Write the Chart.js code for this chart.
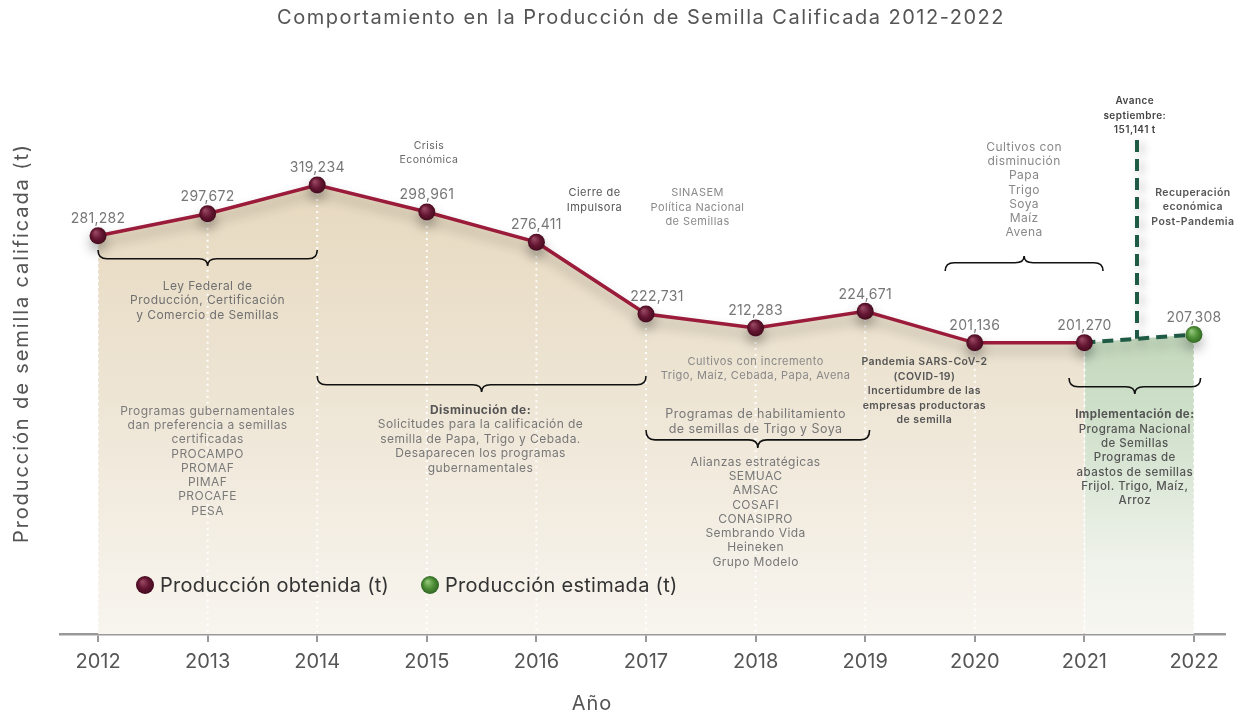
<!DOCTYPE html>
<html><head><meta charset="utf-8">
<script src="https://cdn.jsdelivr.net/npm/chart.js@4.4.1/dist/chart.umd.min.js"></script>
<style>html,body{margin:0;padding:0;background:#fff}</style>
</head><body>
<canvas id="c" width="1239" height="715"></canvas>
<script>
// ---- DATA ----
const years = [2012, 2013, 2014, 2015, 2016, 2017, 2018, 2019, 2020, 2021, 2022];
const yearLabels = ['2012','2013','2014','2015','2016','2017','2018','2019','2020','2021','2022'];
const obtainedYears = [2012, 2013, 2014, 2015, 2016, 2017, 2018, 2019, 2020, 2021];
const obtained = [281282, 297672, 319234, 298961, 276411, 222731, 212283, 224671, 201136, 201270];
const estimatedYears = [2021, 2022];
const estimated = [201270, 207308];
const seriesNames = ['Producción obtenida (t)', 'Producción estimada (t)'];
const avanceYear = 2021.48;

// ---- STYLE ----
const FONT = 'Inter, "Open Sans", sans-serif';
const labelNudge = {2017: 11};   // x pixel nudge of value labels

const notes = [
 {x:2013, y:286, lh:14.5, size:12, color:'#707070', lines:['Ley Federal de','Producción, Certificación','y Comercio de Semillas']},
 {x:2013, y:411, lh:14.3, size:12, color:'#7a7a7a', lines:['Programas gubernamentales','dan preferencia a semillas','certificadas','PROCAMPO','PROMAF','PIMAF','PROCAFE','PESA']},
 {x:2015.02, y:146, lh:14, size:10.5, color:'#666', lines:['Crisis','Económica']},
 {x:2016.53, y:193, lh:15, size:11, color:'#555', lines:['Cierre de','Impulsora']},
 {x:2017.47, y:193, lh:14.5, size:11, color:'#8a8a8a', lines:['SINASEM','Política Nacional','de Semillas']},
 {x:2015.49, y:410, lh:14.5, size:12, color:'#777', lines:[{t:'Disminución de:',w:700,c:'#555'},'Solicitudes para la calificación de','semilla de Papa, Trigo y Cebada.','Desaparecen los programas','gubernamentales']},
 {x:2018.0, y:362, lh:14, size:11, color:'#888', lines:['Cultivos con incremento','Trigo, Maíz, Cebada, Papa, Avena']},
 {x:2018.0, y:414, lh:15, size:12.5, color:'#777', lines:['Programas de habilitamiento','de semillas de Trigo y Soya']},
 {x:2018.0, y:462, lh:14.3, size:12, color:'#777', lines:['Alianzas estratégicas','SEMUAC','AMSAC','COSAFI','CONASIPRO','Sembrando Vida','Heineken','Grupo Modelo']},
 {x:2019.54, y:362, lh:14.5, size:10.5, color:'#555', w:600, lines:['Pandemia SARS-CoV-2','(COVID-19)','Incertidumbre de las','empresas productoras','de semilla']},
 {x:2020.45, y:147, lh:14.3, size:12, color:'#888', lines:['Cultivos con','disminución','Papa','Trigo','Soya','Maíz','Avena']},
 {x:2021.46, y:101, lh:14.5, size:10, color:'#444', w:600, lines:['Avance','septiembre:','151,141 t']},
 {x:2021.99, y:193, lh:14.3, size:10.5, color:'#555', w:600, lines:['Recuperación','económica','Post-Pandemia']},
 {x:2021.46, y:415, lh:14.3, size:11.5, color:'#555', w:500, lines:[{t:'Implementación de:',w:700},'Programa Nacional','de Semillas','Programas de','abastos de semillas','Frijol. Trigo, Maíz,','Arroz']}
];
// braces: x1,x2 in years; y0 = end y; dir 1 = tip down, -1 = tip up
const braces = [
 {x1:2012, x2:2014, y0:250, h:16, dir:1},
 {x1:2014, x2:2017, y0:376, h:16, dir:1},
 {x1:2017, x2:2019.04, y0:430, h:18, dir:1},
 {x1:2019.73, x2:2021.17, y0:271, h:15, dir:-1},
 {x1:2020.86, x2:2022.06, y0:378, h:16, dir:1}
];

function ball(ctx, x, y, r, stops) {
  const g = ctx.createRadialGradient(x - r*0.3, y - r*0.4, 0.5, x, y, r);
  g.addColorStop(0, stops[0]); g.addColorStop(0.55, stops[1]); g.addColorStop(1, stops[2]);
  return g;
}
const maroonStops = ['#9a4862', '#641632', '#420a1c'];
const greenStops = ['#93c77a', '#4f8f37', '#2f6622'];

function pointGrad(stops) {
  return (c) => {
    const chart = c.chart;
    if (!chart.chartArea || c.type !== 'data') return stops[1];
    const x = chart.scales.x.getPixelForValue(c.raw.x);
    const y = chart.scales.y.getPixelForValue(c.raw.y);
    return ball(chart.ctx, x, y, 9, stops);
  };
}

const lineData = obtainedYears.map((x, i) => ({x, y: obtained[i]}));
const estData = estimatedYears.map((x, i) => ({x, y: estimated[i]}));

function spacing(ctx, v) { if ('letterSpacing' in ctx) ctx.letterSpacing = v; }

const decor = {
  id: 'decor',
  beforeDatasetsDraw(chart) {
    const {ctx, chartArea, scales: {x, y}} = chart;
    ctx.save();
    ctx.strokeStyle = 'rgba(255,255,255,0.95)';
    ctx.lineWidth = 2;
    ctx.setLineDash([2, 4]);
    const pts = lineData.concat([estData[estData.length - 1]]);
    pts.forEach(p => {
      const px = x.getPixelForValue(p.x);
      ctx.beginPath();
      ctx.moveTo(px, y.getPixelForValue(p.y) + 8);
      ctx.lineTo(px, chartArea.bottom - 2);
      ctx.stroke();
    });
    ctx.restore();
    // avance dashed vertical line
    const ax = x.getPixelForValue(avanceYear);
    const t = (avanceYear - estimatedYears[0]) / (estimatedYears[1] - estimatedYears[0]);
    const av = estimated[0] + t * (estimated[1] - estimated[0]);
    ctx.save();
    ctx.shadowColor = 'rgba(0,0,0,0.25)'; ctx.shadowBlur = 8; ctx.shadowOffsetX = 4; ctx.shadowOffsetY = 3;
    ctx.strokeStyle = '#1f5a45'; ctx.lineWidth = 4; ctx.setLineDash([12, 7]);
    ctx.beginPath(); ctx.moveTo(ax, 140); ctx.lineTo(ax, y.getPixelForValue(av)); ctx.stroke();
    ctx.restore();
  },
  beforeDatasetDraw(chart) {
    const ctx = chart.ctx;
    ctx.save();
    ctx.shadowColor = 'rgba(0,0,0,0.3)'; ctx.shadowBlur = 12; ctx.shadowOffsetY = 7;
  },
  afterDatasetDraw(chart) { chart.ctx.restore(); },
  afterDatasetsDraw(chart) {
    const {ctx, scales: {x, y}} = chart;
    ctx.save();
    // value labels
    ctx.font = '14px ' + FONT; ctx.fillStyle = '#777'; ctx.textAlign = 'center'; ctx.textBaseline = 'middle';
    spacing(ctx, '0.3px');
    lineData.concat([estData[1]]).forEach(p => {
      ctx.fillText(p.y.toLocaleString('en-US'), x.getPixelForValue(p.x) + (labelNudge[p.x] || 0), y.getPixelForValue(p.y) - 17);
    });
    // braces
    ctx.strokeStyle = '#111'; ctx.lineWidth = 1.6; ctx.setLineDash([]);
    braces.forEach(b => {
      const x1 = x.getPixelForValue(b.x1), x2 = x.getPixelForValue(b.x2), xm = (x1 + x2) / 2;
      const ym = b.y0 + b.dir * b.h * 0.55, yt = b.y0 + b.dir * b.h, q = 9;
      ctx.beginPath();
      ctx.moveTo(x1, b.y0);
      ctx.quadraticCurveTo(x1, ym, x1 + q, ym);
      ctx.lineTo(xm - q, ym);
      ctx.quadraticCurveTo(xm, ym, xm, yt);
      ctx.quadraticCurveTo(xm, ym, xm + q, ym);
      ctx.lineTo(x2 - q, ym);
      ctx.quadraticCurveTo(x2, ym, x2, b.y0);
      ctx.stroke();
    });
    // notes
    spacing(ctx, '0.45px');
    notes.forEach(n => {
      const px = x.getPixelForValue(n.x);
      n.lines.forEach((l, i) => {
        const o = typeof l === 'string' ? {t: l} : l;
        ctx.font = (o.w || n.w || 400) + ' ' + n.size + 'px ' + FONT;
        ctx.fillStyle = o.c || n.color;
        ctx.fillText(o.t, px, n.y + i * n.lh);
      });
    });
    ctx.restore();
  },
  afterDraw(chart) {
    const {ctx} = chart;
    ctx.save();
    ctx.textAlign = 'center'; ctx.textBaseline = 'middle';
    ctx.fillStyle = '#555'; ctx.font = '20px ' + FONT;
    spacing(ctx, '1.5px');
    ctx.fillText('Comportamiento en la Producción de Semilla Calificada 2012-2022', 641, 18);
    spacing(ctx, '1px');
    ctx.fillText('Año', 592, 704);
    spacing(ctx, '1.9px');
    ctx.save(); ctx.translate(22, 343); ctx.rotate(-Math.PI / 2);
    ctx.fillText('Producción de semilla calificada (t)', 0, 0); ctx.restore();
    // legend
    spacing(ctx, '0.3px');
    ctx.textAlign = 'left'; ctx.font = '20px ' + FONT;
    const items = [{x: 145, stops: maroonStops}, {x: 430, stops: greenStops}];
    items.forEach((it, i) => {
      ctx.beginPath(); ctx.fillStyle = ball(ctx, it.x, 585, 9, it.stops);
      ctx.arc(it.x, 585, 9, 0, Math.PI * 2); ctx.fill();
      ctx.fillStyle = '#333';
      ctx.fillText(seriesNames[i], it.x + 15, 586);
    });
    ctx.restore();
  }
};

new Chart(document.getElementById('c'), {
  type: 'line',
  data: {
    datasets: [
      {
        label: seriesNames[0], data: lineData, order: 0,
        borderColor: '#9b1b3a', borderWidth: 3.5, tension: 0,
        fill: 'start',
        backgroundColor: (c) => {
          const ca = c.chart.chartArea; if (!ca) return '#ece2cf';
          const g = c.chart.ctx.createLinearGradient(0, 180, 0, ca.bottom);
          g.addColorStop(0, '#e7d9bf'); g.addColorStop(0.45, '#ede4d3'); g.addColorStop(1, '#f8f5ef');
          return g;
        },
        pointRadius: 8.5, pointHoverRadius: 8.5, pointBorderWidth: 0,
        pointBackgroundColor: pointGrad(maroonStops)
      },
      {
        label: seriesNames[1], data: estData, order: 1,
        borderColor: '#1f5a45', borderWidth: 4, borderDash: [11, 7], tension: 0,
        fill: 'start',
        backgroundColor: (c) => {
          const ca = c.chart.chartArea; if (!ca) return '#c8dbc2';
          const g = c.chart.ctx.createLinearGradient(0, 330, 0, ca.bottom);
          g.addColorStop(0, '#c2d8bc'); g.addColorStop(0.35, '#d3e2ce'); g.addColorStop(0.75, '#eef2ea'); g.addColorStop(1, '#f7f6f1');
          return g;
        },
        pointRadius: [0, 8.5], pointHoverRadius: [0, 8.5], pointBorderWidth: 0,
        pointBackgroundColor: pointGrad(greenStops)
      }
    ]
  },
  options: {
    responsive: false, animation: false, devicePixelRatio: 1,
    layout: {padding: {left: 60, right: 14, top: 60, bottom: 0}},
    plugins: {legend: {display: false}, tooltip: {enabled: false}, filler: {drawTime: 'beforeDatasetsDraw'}},
    scales: {
      x: {
        type: 'linear', min: 2011.653, max: 2022.283,
        afterBuildTicks: (s) => { s.ticks = years.map(v => ({value: v})); },
        afterFit: (s) => { s.height = 81; },
        ticks: {autoSkip: false, maxRotation: 0, padding: 8, color: '#555', font: {family: FONT, size: 20},
                callback: (v) => yearLabels[years.indexOf(v)] ?? ''},
        grid: {drawOnChartArea: false, drawTicks: true, tickLength: 8, color: '#999', lineWidth: 2},
        border: {display: true, color: '#999', width: 2.5}
      },
      y: {display: false, min: -16700, max: 412700}
    }
  },
  plugins: [decor]
});
</script>
</body></html>
